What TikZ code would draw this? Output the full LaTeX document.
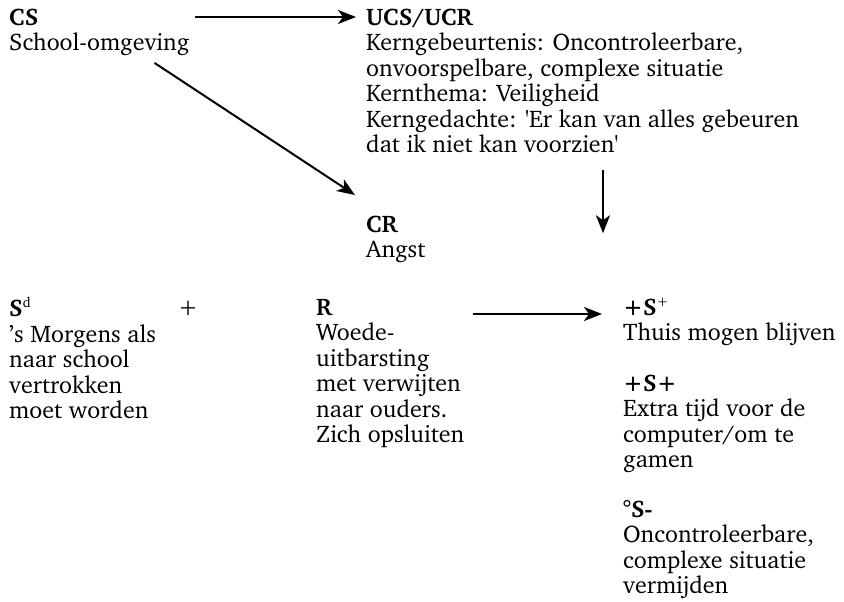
\documentclass[tikz,border=0pt]{standalone}
\usepackage[T1]{fontenc}
\usepackage{charter}
\usetikzlibrary{arrows.meta}
\newcommand{\topstrut}{\rule{0pt}{18pt}}
\newcommand{\smallsup}[1]{\textsuperscript{\mdseries\fontsize{14}{14}\selectfont #1}}
\begin{document}
\begin{tikzpicture}[x=1pt,y=-1pt,
  blk/.style={anchor=north west,inner sep=0pt,align=left,font=\fontsize{24}{25.5}\selectfont},
  arr/.style={line width=2pt,-{Stealth[length=18pt,width=14pt,inset=5pt]}}]
\useasboundingbox (0,0) rectangle (844,602);
% top row
\node[blk] (cs) at (9,7) {\topstrut\textbf{CS}\\School-omgeving};
\node[blk] (ucs) at (366,7) {\topstrut\textbf{UCS/UCR}\\Kerngebeurtenis: Oncontroleerbare,\\onvoorspelbare, complexe situatie\\Kernthema: Veiligheid\\Kerngedachte: \textquotesingle Er kan van alles gebeuren\\dat ik niet kan voorzien\textquotesingle};
\node[blk] (cr) at (366,214) {\topstrut\textbf{CR}\\Angst};
% bottom row
\node[blk] (sd) at (9,297) {\topstrut\textbf{S\smallsup{d}}\\\textquoteright s Morgens als\\naar school\\vertrokken\\moet worden};
\node[blk] (plus) at (178,297) {\topstrut+};
\node[blk] (r) at (316,297) {\topstrut\textbf{R}\\Woede-\\uitbarsting\\met verwijten\\naar ouders.\\Zich opsluiten};
\node[blk] (pos1) at (623,297) {\topstrut\textbf{+S\smallsup{+}}\\Thuis mogen blijven};
\node[blk] (pos2) at (623,373) {\topstrut\textbf{+S+}\\Extra tijd voor de\\computer/om te\\gamen};
\node[blk] (neg) at (623,499) {\topstrut\textbf{\textdegree S-}\\Oncontroleerbare,\\complexe situatie\\vermijden};
% arrows
\draw[arr] ([xshift=5pt,yshift=-10pt]cs.north east) -- ([xshift=-10pt,yshift=-10pt]ucs.north west);
\draw[arr] ([xshift=-35pt,yshift=-7pt]cs.south east) -- ([xshift=-11pt,yshift=19pt]cr.north west);
\draw[arr] ([xshift=237pt,yshift=-17pt]ucs.south west) -- ([xshift=237pt,yshift=-80pt]ucs.south west);
\draw[arr] ([xshift=9pt,yshift=-17pt]r.north east) -- ([xshift=-21pt,yshift=-17pt]pos1.north west);
\end{tikzpicture}
\end{document}
